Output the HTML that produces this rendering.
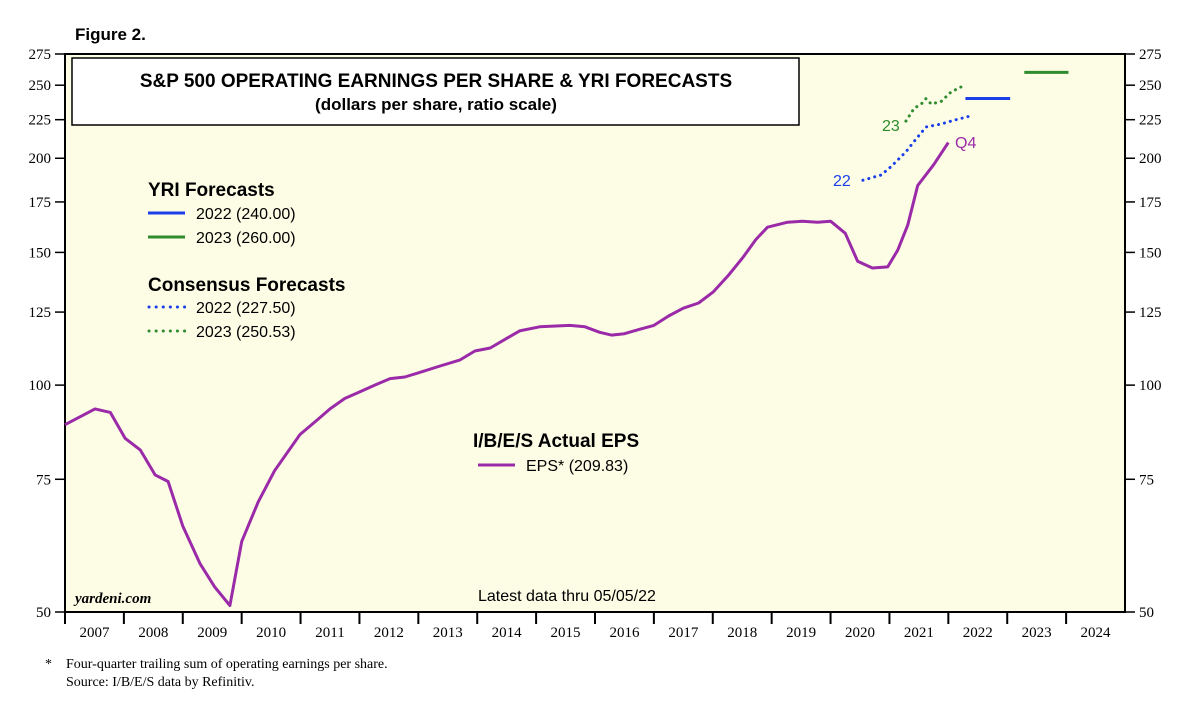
<!DOCTYPE html>
<html><head><meta charset="utf-8"><style>
body{margin:0;background:#fff;}
svg{display:block;font-family:"Liberation Sans",sans-serif;}
.serif{font-family:"Liberation Serif",serif;}
</style></head><body>
<svg id="c" width="1200" height="703">
<text x="75" y="40" font-size="17" font-weight="bold">Figure 2.</text>
<rect x="65" y="54" width="1060" height="558" fill="#fdfde6" stroke="#000" stroke-width="2"/>
<rect x="72" y="58" width="727" height="67" fill="#fff" stroke="#000" stroke-width="1.5"/>
<text x="436" y="87" font-size="19" font-weight="bold" text-anchor="middle">S&amp;P 500 OPERATING EARNINGS PER SHARE &amp; YRI FORECASTS</text>
<text x="436" y="110" font-size="17" font-weight="bold" text-anchor="middle">(dollars per share, ratio scale)</text>
<g id="axes"></g>
<g id="marks"></g>
<text x="148" y="196" font-size="19" font-weight="bold">YRI Forecasts</text>
<line x1="148" y1="213" x2="185" y2="213" stroke="#1a3ee8" stroke-width="3"/>
<text x="196" y="219" font-size="16">2022 (240.00)</text>
<line x1="148" y1="237" x2="185" y2="237" stroke="#2e8b2e" stroke-width="3"/>
<text x="196" y="243" font-size="16">2023 (260.00)</text>
<text x="148" y="291" font-size="19" font-weight="bold">Consensus Forecasts</text>
<line x1="149" y1="307" x2="185" y2="307" stroke="#1a3ee8" stroke-width="3" stroke-dasharray="0.1 7" stroke-linecap="round"/>
<text x="196" y="313" font-size="16">2022 (227.50)</text>
<line x1="149" y1="331" x2="185" y2="331" stroke="#2e8b2e" stroke-width="3" stroke-dasharray="0.1 7" stroke-linecap="round"/>
<text x="196" y="337" font-size="16">2023 (250.53)</text>
<text x="473" y="447" font-size="19" font-weight="bold">I/B/E/S Actual EPS</text>
<line x1="478" y1="465" x2="515" y2="465" stroke="#9b2aa8" stroke-width="3"/>
<text x="526" y="471" font-size="16">EPS* (209.83)</text>
<text x="833" y="186" font-size="16" fill="#1a3ee8">22</text>
<text x="882" y="131" font-size="16" fill="#2e8b2e">23</text>
<text x="955" y="148" font-size="16" fill="#9b2aa8">Q4</text>
<text x="75" y="603" font-size="15" font-weight="bold" font-style="italic" class="serif">yardeni.com</text>
<text x="478" y="601" font-size="16">Latest data thru 05/05/22</text>
<text x="45" y="668" font-size="14" class="serif">*</text>
<text x="66" y="668" font-size="14" class="serif">Four-quarter trailing sum of operating earnings per share.</text>
<text x="66" y="686" font-size="14" class="serif">Source: I/B/E/S data by Refinitiv.</text>
</svg>
<script>
const yTicks=[50,75,100,125,150,175,200,225,250,275];
const years=[2007,2008,2009,2010,2011,2012,2013,2014,2015,2016,2017,2018,2019,2020,2021,2022,2023,2024];
const epsT=[2007.0,2007.51,2007.77,2008.02,2008.28,2008.53,2008.75,2009.0,2009.29,2009.54,2009.8,2010.0,2010.28,2010.56,2010.99,2011.29,2011.5,2011.75,2012.01,2012.26,2012.52,2012.77,2013.03,2013.37,2013.71,2013.96,2014.22,2014.47,2014.72,2015.06,2015.57,2015.83,2016.08,2016.28,2016.5,2016.74,2017.0,2017.25,2017.5,2017.76,2018.01,2018.27,2018.52,2018.73,2018.93,2019.27,2019.52,2019.78,2020.0,2020.25,2020.46,2020.71,2020.97,2021.14,2021.31,2021.48,2021.75,2022.0];
const epsV=[88.6,93,92,85,82,76,74.5,65,58,54,51,62,70,77,86,90,93,96,98,100,102,102.5,104,106,108,111,112,115,118,119.5,120,119.5,117.5,116.5,117,118.5,120,123.5,126.5,128.5,133,140,148,156,162,164.5,165,164.5,165,159,146,143,143.5,151,163,184,196,209.8];
const c22T=[2020.55,2020.86,2021.03,2021.28,2021.45,2021.62,2021.87,2022.13,2022.42];
const c22V=[187,190,195,204,212,220,222,225,228];
const c23T=[2021.28,2021.42,2021.54,2021.62,2021.71,2021.88,2022.05,2022.3];
const c23V=[224,233,236,240,236,238,245,250.5];
const yri=[{y0:2022.29,y1:2023.05,v:240},{y0:2023.29,y1:2024.04,v:260}];
const NS='http://www.w3.org/2000/svg';
const X0=65,X1=1125,Y0=612,Y1=54;
const xs=t=>X0+(t-2007)/18*(X1-X0);
const ys=v=>Y0-(Math.log(v/50)/Math.log(275/50))*(Y0-Y1);
function mk(tag,attrs,parent,txt){const e=document.createElementNS(NS,tag);for(const k in attrs)e.setAttribute(k,attrs[k]);if(txt!==undefined)e.textContent=txt;parent.appendChild(e);return e;}
const ax=document.getElementById('axes'),mg=document.getElementById('marks');
yTicks.forEach(v=>{const y=ys(v);
 let l=mk('line',{x1:X0-10,x2:X0,y1:y,y2:y,stroke:'#000','stroke-width':1.5},ax);
 
 
 let r=mk('line',{x1:X1,x2:X1+10,y1:y,y2:y,stroke:'#000','stroke-width':1.5},ax);
 
 
 let t=mk('text',{x:X0-14,y:y+5,'font-size':15,'text-anchor':'end','class':'serif'},ax,v);
 
 
 let t2=mk('text',{x:X1+14,y:y+5,'font-size':15,'class':'serif'},ax,v);
 
 
});
years.forEach(yr=>{const x=xs(yr);
 let l=mk('line',{x1:x,x2:x,y1:Y0,y2:Y0+12,stroke:'#000','stroke-width':2},ax);
 
 
 let t=mk('text',{x:xs(yr+0.5),y:Y0+25,'font-size':15,'text-anchor':'middle','class':'serif'},ax,yr);
 
 
});
function path(T,V){return T.map((t,i)=>(i?'L':'M')+xs(t).toFixed(1)+','+ys(V[i]).toFixed(1)).join('');}
let p=mk('path',{d:path(epsT,epsV),fill:'none',stroke:'#9b2aa8','stroke-width':3,'stroke-linejoin':'round'},mg);


let p2=mk('path',{d:path(c22T,c22V),fill:'none',stroke:'#1a3ee8','stroke-width':3,'stroke-dasharray':'0.1 6','stroke-linecap':'round'},mg);


let p3=mk('path',{d:path(c23T,c23V),fill:'none',stroke:'#2e8b2e','stroke-width':3,'stroke-dasharray':'0.1 6','stroke-linecap':'round'},mg);


const cols=['#1a3ee8','#2e8b2e'];
yri.forEach((f,i)=>{let l=mk('line',{x1:xs(f.y0),x2:xs(f.y1),y1:ys(f.v),y2:ys(f.v),stroke:cols[i],'stroke-width':3},mg);
 
 });
</script>
</body></html>
